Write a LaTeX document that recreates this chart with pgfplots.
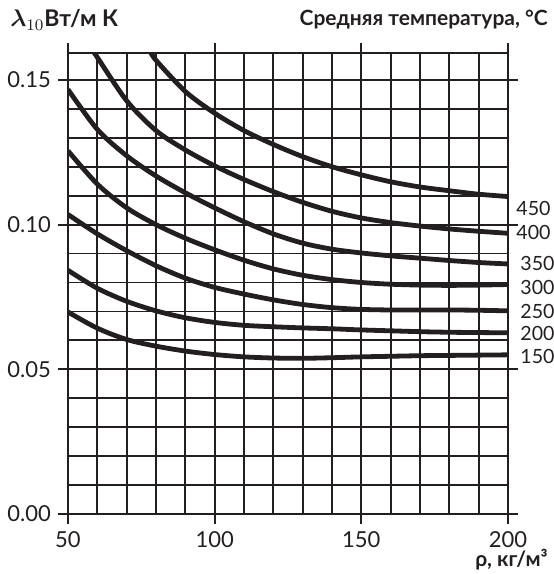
\documentclass[border=0pt]{standalone}
\usepackage{pgfplots}
\pgfplotsset{compat=1.18}
\usepackage{amsmath}
\usepackage{fontspec}
\setmainfont{Lato}
\definecolor{ink}{HTML}{231F20}
\begin{document}
\begin{tikzpicture}[x=1pt,y=1pt]
\useasboundingbox (-34,-30) rectangle (242.5,257);
\begin{axis}[at={(0,0)}, anchor=south west, scale only axis,
  width=220pt, height=230.5pt,
  xmin=50, xmax=200, ymin=0, ymax=0.1593,
  xtick={50,100,150,200},
  minor xtick={60,70,80,90,110,120,130,140,160,170,180,190},
  ytick={0,0.05,0.10,0.15},
  minor ytick={0.02,0.03,0.04,0.06,0.07,0.08,0.09,0.11,0.12,0.13,0.14},
  extra y ticks={0.01}, extra y tick labels={},
  extra y tick style={major tick length=0pt, grid style={line width=1.4pt, ink}},
  grid=both,
  major grid style={line width=0.9pt, ink},
  minor grid style={line width=0.9pt, ink},
  axis line style={line width=1.4pt, ink},
  tick align=outside, major tick length=5pt, minor tick length=0pt,
  tick style={line width=0.9pt, ink},
  /pgf/number format/assume math mode=true,
  yticklabel style={/pgf/number format/.cd, fixed, fixed zerofill, precision=2},
  xticklabel style={/pgf/number format/.cd, fixed, precision=0},
  ticklabel style={font=\fontsize{11}{13}\selectfont, text=ink},
  curve/.style={line width=2.4pt, color=ink, smooth, no markers, solid},
  clip=true,
]
% 150
\addplot[curve] coordinates {(50,0.0698) (60,0.0642) (70,0.0603) (80,0.0580) (90,0.0563) (100,0.0551) (110,0.0543) (120,0.0539) (130,0.0538) (140,0.0540) (150,0.0543) (160,0.0545) (170,0.0547) (180,0.0548) (190,0.0549) (200,0.0550)};
% 200
\addplot[curve] coordinates {(50,0.0842) (60,0.0780) (70,0.0735) (80,0.0702) (90,0.0678) (100,0.0662) (110,0.0652) (120,0.0647) (130,0.0643) (140,0.0640) (150,0.0636) (160,0.0633) (170,0.0630) (180,0.0628) (190,0.0627) (200,0.0626)};
% 250
\addplot[curve] coordinates {(50,0.1035) (60,0.0968) (70,0.0910) (80,0.0858) (90,0.0815) (100,0.0783) (110,0.0760) (120,0.0740) (130,0.0724) (140,0.0713) (150,0.0707) (160,0.0705) (170,0.0705) (180,0.0705) (190,0.0704) (200,0.0702)};
% 300
\addplot[curve] coordinates {(50,0.1255) (60,0.1140) (70,0.1058) (80,0.1000) (90,0.0953) (100,0.0913) (110,0.0877) (120,0.0847) (130,0.0825) (140,0.0810) (150,0.0800) (160,0.0794) (170,0.0791) (180,0.0790) (190,0.0791) (200,0.0793)};
% 350
\addplot[curve] coordinates {(50,0.1467) (60,0.1329) (70,0.1238) (80,0.1168) (90,0.1110) (100,0.1058) (110,0.1010) (120,0.0968) (130,0.0936) (140,0.0915) (150,0.0902) (160,0.0892) (170,0.0884) (180,0.0876) (190,0.0869) (200,0.0864)};
% 400
\addplot[curve] coordinates {(58.5,0.1600) (60,0.1578) (70,0.1428) (80,0.1325) (90,0.1258) (100,0.1203) (110,0.1156) (120,0.1114) (130,0.1077) (140,0.1046) (150,0.1023) (160,0.1007) (170,0.0995) (180,0.0985) (190,0.0977) (200,0.0970)};
% 450
\addplot[curve] coordinates {(78,0.1600) (80,0.1568) (90,0.1460) (100,0.1385) (110,0.1325) (120,0.1277) (130,0.1235) (140,0.1200) (150,0.1172) (160,0.1148) (170,0.1130) (180,0.1117) (190,0.1105) (200,0.1097)};
\end{axis}
\begin{scope}[every node/.style={font=\fontsize{9.8}{12}\selectfont, text=ink, inner sep=0pt, anchor=west}]
\node at (224,153) {450};
\node at (224,141) {400};
\node at (226,125.5) {350};
\node at (226,113.5) {300};
\node at (226,101.5) {250};
\node at (226,90.5) {200};
\node at (226,79) {150};
\end{scope}
\node[anchor=west, inner sep=0pt, text=ink, font=\fontsize{11.5}{13}\selectfont] at (-29,247) {$\boldsymbol{\lambda}_{10}$\textbf{Вт/м К}};
\node[anchor=east, inner sep=0pt, text=ink, font=\fontsize{10.5}{12}\selectfont\bfseries] at (240,247) {Средняя температура, °С};
\node[anchor=east, inner sep=0pt, text=ink, font=\fontsize{10.5}{12}\selectfont\bfseries] at (240,-23) {ρ, кг/м³};
\end{tikzpicture}
\end{document}
